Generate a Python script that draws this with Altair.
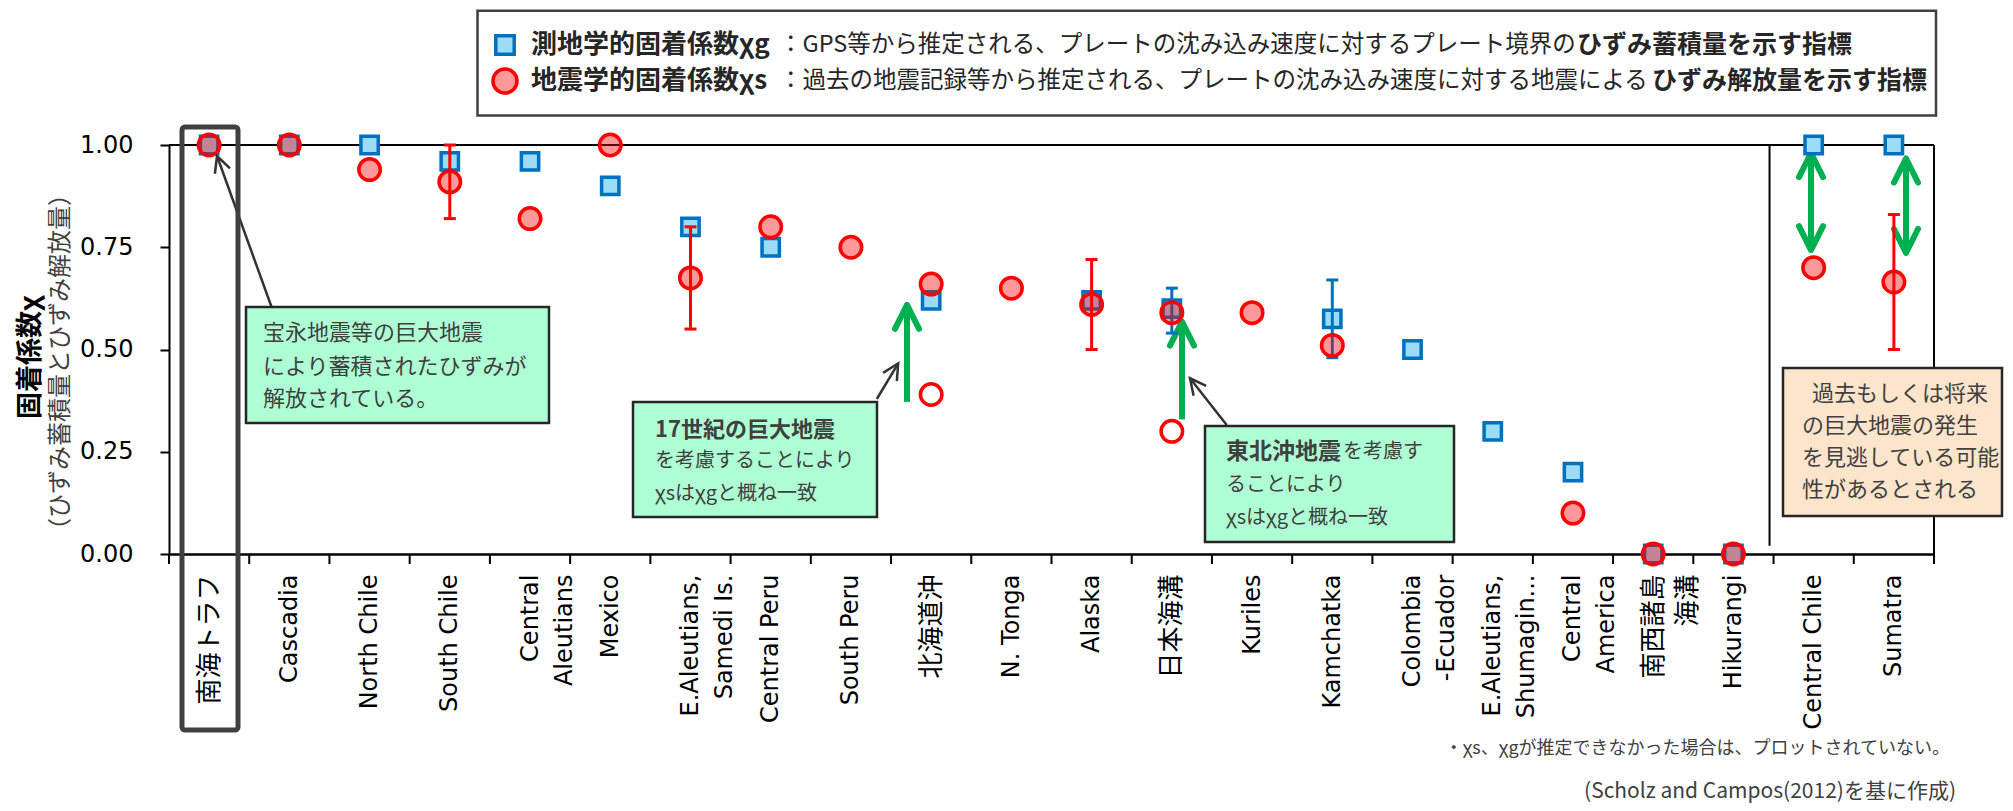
import json
import math
import altair as alt
import pandas as pd

# ---------------- data ----------------
NB = "\u00a0"
categories = [
    "南海トラフ", "Cascadia", "North Chile", "South Chile", "Central" + NB * 2 + "|Aleutians",
    "Mexico", "E.Aleutians,|Samedi Is." + NB, "Central Peru", "South Peru", "北海道沖",
    "N. Tonga", "Alaska", "日本海溝", "Kuriles", "Kamchatka", "Colombia|-Ecuador",
    "E.Aleutians,|Shumagin...", "Central" + NB + "|America", "南西諸島|海溝" + NB * 3, "Hikurangi",
    "Central Chile", "Sumatra",
]
xg_values = [1.00, 1.00, 1.00, 0.96, 0.96, 0.90, 0.80, 0.75, None, 0.62,
             None, 0.62, 0.60, None, 0.575, 0.50, 0.30, 0.20, 0.00, 0.00,
             1.00, 1.00]
xs_values = [1.00, 1.00, 0.94, 0.91, 0.82, 1.00, 0.675, 0.80, 0.75, 0.66,
             0.65, 0.61, 0.59, 0.59, 0.51, None, None, 0.10, 0.00, 0.00,
             0.70, 0.665]
xs_old_categories = ["北海道沖", "日本海溝"]
xs_old_values = [0.39, 0.30]
xs_err_categories = ["South Chile", "E.Aleutians,|Samedi Is." + NB, "Alaska", "Sumatra"]
xs_err_low = [0.82, 0.55, 0.50, 0.50]
xs_err_high = [1.00, 0.80, 0.72, 0.83]
xg_err_categories = ["日本海溝", "Kamchatka"]
xg_err_low = [0.54, 0.48]
xg_err_high = [0.65, 0.67]
y_ticks = [0.0, 0.25, 0.5, 0.75, 1.0]

# ---------------- layout / style ----------------
W, H = 1765, 409
N = len(categories)
JP = "Noto Sans CJK JP"
LAT = "DejaVu Sans, Noto Sans CJK JP"
BLUE = "#0070C0"
BLUE_FILL = "#9BDCF6"
RED = "#FF0000"
GREEN = "#00B050"
DARK = "#404040"
TXT = "#262626"
CHEVRON = "M -1 2 L 0 0 L 1 2"


def fx(px):
    return (px - 169.0) / W * N


def fy(py):
    return (554.0 - py) / H


def cx(cat):
    return categories.index(cat) + 0.5


xscale = alt.Scale(domain=[0, N], nice=False, zero=False)
yscale = alt.Scale(domain=[0, 1], nice=False, zero=False)

label_expr = ("split(" + json.dumps(categories, ensure_ascii=False)
              + "[floor(datum.value)], '|')")
jp_test = " || ".join(f"datum.value == {i + 0.5}" for i, c in enumerate(categories)
                      if any(ord(ch) > 0x3000 for ch in c))

x_axis = alt.Axis(values=[i + 0.5 for i in range(N)], labelExpr=label_expr,
                  labelAngle=270, labelAlign="right", labelBaseline="middle",
                  labelFont=LAT,
                  labelFontSize={"condition": {"test": jp_test, "value": 26}, "value": 24},
                  labelColor="black",
                  labelPadding=20, labelLineHeight=34, labelOverlap=False,
                  labelBound=False, labelFlush=False, labelLimit=600,
                  ticks=False, tickSize=0, domainColor="black", domainWidth=2.5,
                  grid=False, title=None)
y_axis = alt.Axis(values=y_ticks, format=".2f", labelFont="DejaVu Sans",
                  labelFontSize=24, labelColor="black", labelPadding=27,
                  tickSize=9, tickWidth=2, tickColor="black",
                  domainColor="black", domainWidth=2, grid=False, title=None)


def X(f):
    return alt.X(f, type="quantitative", scale=xscale, axis=x_axis)


def Y(f):
    return alt.Y(f, type="quantitative", scale=yscale, axis=y_axis)


one = pd.DataFrame({"a": [0]})
layers = []

# legend box
legend_box = pd.DataFrame({"x1": [fx(477.5)], "x2": [fx(1936)], "y1": [fy(10.7)], "y2": [fy(115.5)]})
layers.append(alt.Chart(legend_box).mark_rect(fill="white", stroke=DARK, strokeWidth=2.5).encode(
    x=X("x1"), x2="x2", y=Y("y1"), y2="y2"))

# frame top / right
layers.append(alt.Chart(one).mark_rule(color="black", strokeWidth=2).encode(
    x=alt.value(0), x2=alt.value(W), y=alt.value(0)))
layers.append(alt.Chart(one).mark_rule(color="black", strokeWidth=2).encode(
    x=alt.value(W), y=alt.value(0), y2=alt.value(H)))

# separator
sep = pd.DataFrame({"x": [19.95], "y1": [0.02], "y2": [1.0]})
layers.append(alt.Chart(sep).mark_rule(color="black", strokeWidth=2).encode(
    x=X("x"), y=Y("y1"), y2="y2"))

# category boundary ticks
bounds = pd.DataFrame({"b": list(range(N + 1))})
layers.append(alt.Chart(bounds).mark_rule(color="black", strokeWidth=2).encode(
    x=X("b"), y=alt.value(H), y2=alt.value(H + 10)))

# green arrows
g_shaft = pd.DataFrame({
    "x": [fx(907), fx(1182), fx(1811), fx(1906)],
    "y1": [0.372, 0.329, 0.743, 0.736],
    "y2": [0.609, 0.568, 0.980, 0.967],
})
layers.append(alt.Chart(g_shaft).mark_rule(color=GREEN, strokeWidth=6).encode(
    x=X("x"), y=Y("y1"), y2="y2"))
g_head = pd.DataFrame({
    "x": [fx(907), fx(1182), fx(1811), fx(1811), fx(1906), fx(1906)],
    "y": [0.609, 0.568, 0.980, 0.743, 0.967, 0.736],
    "ang": [0, 0, 0, 180, 0, 180],
})
layers.append(alt.Chart(g_head).mark_point(shape=CHEVRON, filled=False, stroke=GREEN, strokeWidth=6,
                                           size=576, opacity=1, strokeCap="round",
                                           strokeJoin="round").encode(
    x=X("x"), y=Y("y"), angle=alt.Angle("ang", type="quantitative", scale=None)))

# squares (xg)
sq = pd.DataFrame({"x": [i + 0.5 for i, v in enumerate(xg_values) if v is not None],
                   "y": [v for v in xg_values if v is not None]})
layers.append(alt.Chart(sq).mark_point(shape="square", filled=True, fill=BLUE_FILL, fillOpacity=1,
                                       stroke=BLUE, strokeWidth=3.5, size=300, opacity=1).encode(
    x=X("x"), y=Y("y")))


# error bars
def err_layers(cats, lo, hi, color):
    d = pd.DataFrame({"x": [cx(c) for c in cats], "lo": lo, "hi": hi})
    caps = pd.DataFrame({"x": [cx(c) for c in cats] * 2, "y": list(lo) + list(hi)})
    return [
        alt.Chart(d).mark_rule(color=color, strokeWidth=3).encode(x=X("x"), y=Y("lo"), y2="hi"),
        alt.Chart(caps).mark_point(shape="M -1 0 L 1 0", filled=False, stroke=color, strokeWidth=3,
                                   size=144, opacity=1).encode(x=X("x"), y=Y("y")),
    ]


layers += err_layers(xg_err_categories, xg_err_low, xg_err_high, BLUE)
layers += err_layers(xs_err_categories, xs_err_low, xs_err_high, RED)

# circles (xs)
ci = pd.DataFrame({"x": [i + 0.5 for i, v in enumerate(xs_values) if v is not None],
                   "y": [v for v in xs_values if v is not None]})
layers.append(alt.Chart(ci).mark_point(shape="circle", filled=True, fill=RED, fillOpacity=0.4,
                                       stroke=RED, strokeWidth=3.5, size=462, opacity=1).encode(
    x=X("x"), y=Y("y")))
ho = pd.DataFrame({"x": [cx(c) for c in xs_old_categories], "y": xs_old_values})
layers.append(alt.Chart(ho).mark_point(shape="circle", filled=True, fill="white", fillOpacity=1,
                                       stroke=RED, strokeWidth=3.5, size=462, opacity=1).encode(
    x=X("x"), y=Y("y")))

# pointer arrows
ptr_px = [((273, 311), (217, 156)), ((876.8, 399), (898.2, 363.3)), ((1226.7, 425), (1190, 378.3))]
ptr = pd.DataFrame({
    "x1": [fx(s[0]) for s, t in ptr_px], "y1": [fy(s[1]) for s, t in ptr_px],
    "x2": [fx(t[0]) for s, t in ptr_px], "y2": [fy(t[1]) for s, t in ptr_px],
    "ang": [math.degrees(math.atan2(t[0] - s[0], -(t[1] - s[1]))) % 360 for s, t in ptr_px],
})
layers.append(alt.Chart(ptr).mark_rule(color="#333333", strokeWidth=2.5).encode(
    x=X("x1"), x2="x2", y=Y("y1"), y2="y2"))
layers.append(alt.Chart(ptr).mark_point(shape=CHEVRON, filled=False, stroke="#333333", strokeWidth=2.5,
                                        size=256, opacity=1).encode(
    x=X("x2"), y=Y("y2"), angle=alt.Angle("ang", type="quantitative", scale=None)))


# annotation boxes
def box(x1, x2, y1, y2, fill, sw=2.5, stroke="#262626", fo=1.0, cr=0):
    d = pd.DataFrame({"x1": [fx(x1)], "x2": [fx(x2)], "y1": [fy(y1)], "y2": [fy(y2)]})
    return alt.Chart(d).mark_rect(fill=fill, fillOpacity=fo, stroke=stroke, strokeWidth=sw,
                                  cornerRadius=cr).encode(x=X("x1"), x2="x2", y=Y("y1"), y2="y2")


layers.append(box(246, 549, 307, 423, "#AEFFD4"))
layers.append(box(633, 877, 402, 517, "#AEFFD4"))
layers.append(box(1205, 1454, 426, 542, "#AEFFD4"))
layers.append(box(1783, 2002, 368, 516, "#FDE5CC"))
layers.append(box(182, 238, 127, 730, "white", sw=5, stroke=DARK, fo=0.0, cr=3))


def text_layer(rows, size, weight="normal", align="left", color=DARK, font=JP, angle=0):
    d = pd.DataFrame({"x": [fx(r[0]) for r in rows], "y": [fy(r[1]) for r in rows],
                      "t": [r[2] for r in rows]})
    return alt.Chart(d).mark_text(fontSize=size, fontWeight=weight, align=align, baseline="middle",
                                  color=color, font=font, angle=angle).encode(
        x=X("x"), y=Y("y"), text=alt.Text("t", type="nominal"))


# box texts
layers.append(text_layer([(263, 333, "宝永地震等の巨大地震"), (263, 367, "により蓄積されたひずみが"),
                          (263, 399, "解放されている。")], 22))
layers.append(text_layer([(655, 430, "17世紀の巨大地震")], 22, weight="bold"))
layers.append(text_layer([(655, 461, "を考慮することにより"), (655, 494, "χsはχgと概ね一致")], 20))
layers.append(text_layer([(1226, 452, "東北沖地震")], 23, weight="bold"))
layers.append(text_layer([(1343, 452, "を考慮す"), (1226, 485, "ることにより"),
                          (1226, 518, "χsはχgと概ね一致")], 20))
layers.append(text_layer([(1812, 394, "過去もしくは将来"), (1802, 426, "の巨大地震の発生"),
                          (1802, 458, "を見逃している可能"), (1802, 490, "性があるとされる")], 22))

# legend texts
layers.append(text_layer([(531, 45, "測地学的固着係数χg"), (531, 81, "地震学的固着係数χs")], 26,
                         weight="bold", color=TXT))
layers.append(text_layer([(779, 45, "：GPS等から推定される、プレートの沈み込み速度に対するプレート境界の"),
                          (779, 81, "：過去の地震記録等から推定される、プレートの沈み込み速度に対する地震による")],
                         23.5, color=TXT))
layers.append(text_layer([(1577, 45, "ひずみ蓄積量を示す指標"), (1652, 81, "ひずみ解放量を示す指標")], 25,
                         weight="bold", color=TXT))

# legend markers
lg_sq = pd.DataFrame({"x": [fx(505)], "y": [fy(45)]})
lg_ci = pd.DataFrame({"x": [fx(505)], "y": [fy(81)]})
layers.append(alt.Chart(lg_sq).mark_point(shape="square", filled=True, fill=BLUE_FILL, fillOpacity=1,
                                          stroke=BLUE, strokeWidth=3.5, size=340, opacity=1).encode(
    x=X("x"), y=Y("y")))
layers.append(alt.Chart(lg_ci).mark_point(shape="circle", filled=True, fill=RED, fillOpacity=0.4,
                                          stroke=RED, strokeWidth=3.5, size=580, opacity=1).encode(
    x=X("x"), y=Y("y")))

# y-axis title
layers.append(text_layer([(31, 357, "固着係数χ")], 27, weight="bold", align="center", color="black",
                         angle=270))
layers.append(text_layer([(61, 362, "（ひずみ蓄積量とひずみ解放量）")], 24, align="center", color=DARK,
                         angle=270))

# notes
layers.append(text_layer([(1950, 749, "・χs、χgが推定できなかった場合は、プロットされていない。")], 18,
                         align="right", color=DARK))
layers.append(text_layer([(1956, 792, "(Scholz and Campos(2012)を基に作成)")], 21,
                         align="right", color=DARK))

chart = alt.layer(*layers).properties(
    width=W, height=H,
    autosize=alt.AutoSizeParams(type="none"),
    padding={"left": 161, "top": 137, "right": 70, "bottom": 249},
    background="white",
).configure_view(strokeWidth=0)

chart.save("out.html", embed_options={"renderer": "svg", "actions": False})
